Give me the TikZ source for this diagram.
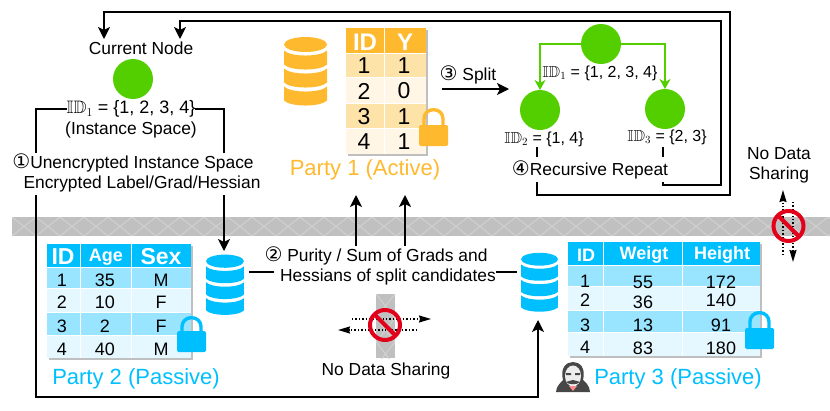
\documentclass[tikz,border=0pt]{standalone}
\usepackage{amssymb}
\usepackage{fontspec}
\setmainfont{Liberation Sans}
\newfontfamily\symfont[Scale=1.15]{DejaVu Sans}
\usetikzlibrary{arrows.meta}
\definecolor{nodegreen}{HTML}{53CF00}
\definecolor{org}{HTML}{FFB92E}
\definecolor{orgmid}{HTML}{FEE3A9}
\definecolor{orglight}{HTML}{FFF6E5}
\definecolor{sky}{HTML}{00BFFF}
\definecolor{skymid}{HTML}{99E5FF}
\definecolor{skylight}{HTML}{E5F8FF}
\definecolor{wallgray}{HTML}{C0C0C0}
\definecolor{stopred}{HTML}{E3001B}
\newcommand{\fsz}[1]{\fontsize{#1}{#1}\selectfont}
\newcommand{\circnum}[1]{{\symfont #1}}
\newcommand{\idset}[1]{$\mathbb{ID}_{#1}$}
\newcommand{\rowfill}[5]{\fill[#5] (#1,#3) rectangle (#2,#4);}
% name, centre x, centre y, scale, colour
\newcommand{\dbicon}[5]{%
  \node[minimum width=#4*43pt,minimum height=#4*68pt] (#1) at (#2,#3) {};
  \begin{scope}[shift={(#2,#3)},scale=#4]
    \fill[#5] (0,-26.5) ellipse (21.5 and 7.5);
    \foreach \dy in {-20.5,-2.5,15.5}
      \fill[#5] (-21.5,\dy) -- (-21.5,\dy+14) .. controls (-15,\dy+20.7) and (15,\dy+20.7) .. (21.5,\dy+14)
        -- (21.5,\dy) .. controls (15,\dy+6.7) and (-15,\dy+6.7) .. cycle;
  \end{scope}}
% left, top of body, colour, top of shackle
\newcommand{\lockicon}[4]{%
  \draw[#3,line width=3.4pt,rounded corners=9pt] (#1+5,#2+2) -- (#1+5,#4+1.7) -- (#1+24,#4+1.7) -- (#1+24,#2+2);
  \fill[#3,rounded corners=1.5pt] (#1,#2) rectangle (#1+29,#2+21);}
% centre x, centre y of a stop sign
\newcommand{\stopsign}[3]{%
  \node[circle,draw=stopred,line width=4pt,minimum size=30pt] (#1) at (#2,#3) {};
  \draw[stopred,line width=4pt] (#1.north west) -- (#1.south east);}
\tikzset{
  lab/.style={font=\fsz{17.4}},
  setlab/.style={font=\fsz{18}},
  smalllab/.style={font=\fsz{16}},
  party/.style={font=\fsz{22}},
  gnode/.style={circle,fill=nodegreen,minimum size=40pt},
  flow/.style={line width=1.6pt,-{Stealth[length=12pt,width=12pt,inset=3pt]}},
  plain/.style={line width=1.6pt},
  garrow/.style={nodegreen,line width=1.2pt,-{Stealth[length=10pt,width=11pt,inset=3pt]}},
  nodata/.style={dotted,line width=1.4pt,-{Stealth[length=12pt,width=7pt,inset=1pt]}},
  wh/.style={white,font=\bfseries\fsz{#1}}
}
\begin{document}
\begin{tikzpicture}[x=1pt,y=-1pt,every node/.style={inner sep=0pt,outer sep=0pt}]
  \useasboundingbox (0,0) rectangle (830,410);
  % wall
  \fill[wallgray] (12,217) rectangle (830,236);
  \begin{scope}
    \clip (12,217) rectangle (830,236);
    \foreach \x in {12,36,...,828}
      \draw[white!28!wallgray,line width=.9pt] (\x,217) -- (\x+24,236) (\x+24,217) -- (\x,236);
  \end{scope}
  \fill[wallgray] (376,294) rectangle (395,358);
  \begin{scope}
    \clip (376,294) rectangle (395,358);
    \foreach \y in {294,318,342}
      \draw[white!28!wallgray,line width=.9pt] (376,\y) -- (395,\y+24) (395,\y) -- (376,\y+24);
  \end{scope}
  % party 1
  \fill[black!25] (348,30) rectangle (428,156);
  \fill[white] (346,28) rectangle (426,154);
  \rowfill{346}{426}{28}{53}{org}
  \rowfill{346}{426}{54}{77}{orgmid}
  \rowfill{346}{426}{78}{103}{orglight}
  \rowfill{346}{426}{104}{128}{orgmid}
  \rowfill{346}{426}{129}{154}{orglight}
  \draw[white,line width=.8pt] (384,28) -- (384,154);
  \node[wh=24] (idA) at (365,42) {ID};
  \node[wh=24] (yA) at (405,42) {Y};
  \foreach \n/\y/\a/\b in {1/66/1/1,2/91/2/0,3/117/3/1,4/142/4/1} {
    \node[font=\fsz{23}] (pa\n) at (364,\y) {\a};
    \node[font=\fsz{23}] (pb\n) at (404,\y) {\b};
  }
  \lockicon{419}{125}{org}{108}
  \dbicon{dbA}{305.5}{71}{1}{org}
  \node[party,text=org] (partyA) at (365,170) {Party 1 (Active)};
  % party 2
  \fill[black!25] (49,246) rectangle (193,360);
  \fill[white] (47,244) rectangle (191,358);
  \rowfill{47}{191}{244}{267}{sky}
  \rowfill{47}{191}{268}{288}{skymid}
  \rowfill{47}{191}{289}{312}{skylight}
  \rowfill{47}{191}{313}{335}{skymid}
  \rowfill{47}{191}{336}{358}{skylight}
  \draw[white,line width=.8pt] (80.5,244) -- (80.5,358) (131.5,244) -- (131.5,358);
  \node[wh=23] (idB) at (63,257) {ID};
  \node[wh=18] (ageB) at (106,257) {Age};
  \node[wh=23] (sexB) at (161,257) {Sex};
  \foreach \n/\y/\a/\b/\c in {1/280/1/35/M,2/302/2/10/F,3/326/3/2/F,4/349/4/40/M} {
    \node[font=\fsz{18}] (qa\n) at (62,\y) {\a};
    \node[font=\fsz{18}] (qb\n) at (105,\y) {\b};
    \node[font=\fsz{18}] (qc\n) at (161,\y) {\c};
  }
  \lockicon{177}{331}{sky}{316}
  \dbicon{dbB}{225}{284.5}{.88}{sky}
  \node[party,text=sky] (partyB) at (136,379) {Party 2 (Passive)};
  % party 3
  \fill[black!25] (570,244) rectangle (762,358);
  \fill[white] (568,242) rectangle (760,356);
  \rowfill{568}{760}{242}{265}{sky}
  \rowfill{568}{760}{266}{286}{skymid}
  \rowfill{568}{760}{287}{310}{skylight}
  \rowfill{568}{760}{311}{332}{skymid}
  \rowfill{568}{760}{333}{356}{skylight}
  \draw[white,line width=.8pt] (603.5,242) -- (603.5,356) (682.5,242) -- (682.5,356);
  \node[wh=18] (idC) at (586,255) {ID};
  \node[wh=18] (wC) at (644,255) {Weigt};
  \node[wh=18] (hC) at (722,255) {Height};
  \foreach \n/\ya/\yb/\yc/\a/\b/\c in {1/281/282/282/1/55/172,2/300/302/300/2/36/140,3/325/325/325/3/13/91,4/347/348/348/4/83/180} {
    \node[font=\fsz{18}] (ra\n) at (585,\ya) {\a};
    \node[font=\fsz{18}] (rb\n) at (643,\yb) {\b};
    \node[font=\fsz{18}] (rc\n) at (721,\yc) {\c};
  }
  \lockicon{745}{328}{sky}{311}
  \dbicon{dbC}{539.5}{282}{.86}{sky}
  \node[party,text=sky] (partyC) at (678,379) {Party 3 (Passive)};
  % hooded figure
  \fill[black!72] (556,392) .. controls (557,384) and (562,382) .. (563,380) .. controls (560,368) and (566,362) .. (573,362)
    .. controls (580,362) and (586,368) .. (583,380) .. controls (585,382) and (589,384) .. (590,392) -- cycle;
  \fill[white!93!black] (573,376) ellipse (8 and 10.5);
  \fill[black!72] (566,373) rectangle (571,375) (575,373) rectangle (580,375);
  \fill[black!72] (573,380) .. controls (570,380) and (568,382) .. (566,382) .. controls (569,385) and (577,385) .. (580,382) .. controls (578,382) and (576,380) .. (573,380);
  \fill[red!45!white] (569,386) -- (577,386) -- (573,391) -- cycle;
  % current node
  \node[lab] (curlab) at (141,48) {Current Node};
  \node[gnode] (cur) at (133,79) {};
  \node[setlab] (curset) at (131,109) {\idset{1} = \{1, 2, 3, 4\}};
  \node[lab] (curspace) at (131,130) {(Instance Space)};
  \node[lab] (step1a) at (133,163) {\circnum{①}Unencrypted Instance Space};
  \node[lab] (step1b) at (142,184) {Encrypted Label/Grad/Hessian};
  % tree
  \node[gnode] (root) at (601,44) {};
  \node[gnode] (left) at (540,110) {};
  \node[gnode] (right) at (665,109) {};
  \draw[garrow] (root) -| (left.north);
  \draw[garrow] (root) -| (right.north);
  \node[smalllab] (rootset) at (600,73) {\idset{1} = \{1, 2, 3, 4\}};
  \node[smalllab] (leftset) at (544,139) {\idset{2} = \{1, 4\}};
  \node[smalllab] (rightset) at (667,137) {\idset{3} = \{2, 3\}};
  \node[lab] (step3) at (468,75) {\circnum{③} Split};
  \node[lab] (step4) at (590,170) {\circnum{④}Recursive Repeat};
  % exchange text
  \node[lab] (step2a) at (376,256) {\circnum{②} Purity / Sum of Grads and};
  \node[lab] (step2b) at (388,277) {Hessians of split candidates};
  \node[lab] (nds) at (386,371) {No Data Sharing};
  \node[lab] (ndsa) at (779,154) {No Data};
  \node[lab] (ndsb) at (779,175) {Sharing};
  % connector ends
  \coordinate (lta) at (36,153);
  \coordinate (ltb) at (36,195);
  \coordinate (rta) at (224,153);
  \coordinate (rtb) at (224,195);
  \coordinate (bot) at (538,397);
  \coordinate (upa) at (356,246);
  \coordinate (upb) at (405,246);
  \coordinate (upaend) at (356,195);
  \coordinate (upbend) at (405,195);
  \coordinate (splita) at (442,89);
  \coordinate (splitb) at (509,89);
  \coordinate (lfa) at (537,147);
  \coordinate (lfb) at (537,157);
  \coordinate (lfc) at (537,182);
  \coordinate (rga) at (663,147);
  \coordinate (rgb) at (663,157);
  \coordinate (rgc) at (663,182);
  \coordinate (loopa) at (730,195);
  \coordinate (loopb) at (730,12);
  \coordinate (loopc) at (104,12);
  \coordinate (loopend) at (104,39);
  \coordinate (inna) at (663,185);
  \coordinate (innb) at (721,185);
  \coordinate (innc) at (721,21);
  \coordinate (innd) at (180,21);
  \coordinate (innend) at (180,39);
  \coordinate (dbl) at (249,272);
  \coordinate (dbla) at (274,272);
  \coordinate (dbr) at (496,272);
  \coordinate (dbra) at (517,272);
  \draw[plain] (curset.west) -| (lta);
  \draw[plain] (curset.east) -| (rta);
  \draw[flow] (ltb) |- (bot) -- (538,320);
  \draw[flow] (rtb) -- (224,251);
  \draw[flow] (upa) -- (upaend);
  \draw[flow] (upb) -- (upbend);
  \draw[flow] (splita) -- (splitb);
  \draw[plain] (lfa) -- (lfb);
  \draw[plain] (rga) -- (rgb);
  \draw[flow] (lfc) |- (loopa) -- (loopb) -- (loopc) -- (loopend);
  \draw[flow] (rgc) -- (inna) -- (innb) -- (innc) -- (innd) -- (innend);
  \draw[plain] (dbl) -- (dbla);
  \draw[plain] (dbr) -- (dbra);
  % no sharing marks
  \coordinate (hra) at (352,319);
  \coordinate (hrb) at (431,319);
  \coordinate (hla) at (417,330);
  \coordinate (hlb) at (338,330);
  \coordinate (vua) at (783,255);
  \coordinate (vub) at (783,190);
  \coordinate (vda) at (793,202);
  \coordinate (vdb) at (793,262);
  \draw[nodata] (hra) -- (hrb);
  \draw[nodata] (hla) -- (hlb);
  \draw[nodata] (vua) -- (vub);
  \draw[nodata] (vda) -- (vdb);
  \stopsign{stopa}{385}{325}
  \stopsign{stopb}{788.5}{226}
\end{tikzpicture}
\end{document}
